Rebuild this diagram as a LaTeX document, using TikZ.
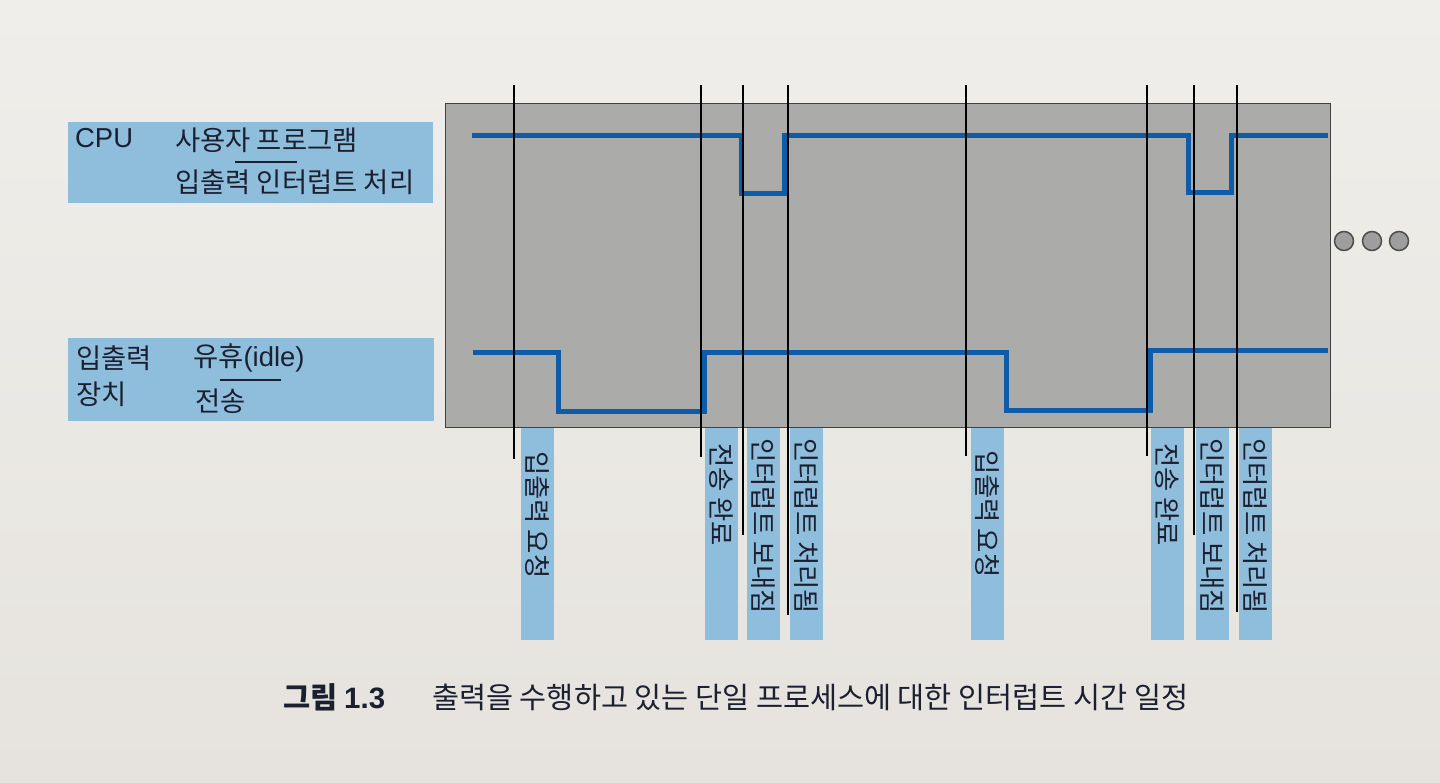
\documentclass[tikz,border=0pt]{standalone}
\usepackage{fontspec}
\setmainfont{Noto Sans CJK KR}
\newfontfamily\latinfont{Liberation Sans}
\newfontfamily\latinbold{Liberation Sans Bold}
\definecolor{paperA}{HTML}{EFEEEA}
\definecolor{paperB}{HTML}{E6E3DE}
\definecolor{boxgray}{HTML}{ABABA9}
\definecolor{lblue}{HTML}{8FBDDC}
\definecolor{sigblue}{HTML}{0E5BA8}
\definecolor{ink}{HTML}{1B2030}
\tikzset{
  legendbox/.style={fill=lblue, draw=none},
  txt/.style={anchor=west, inner sep=0pt, text=ink, font=\fontsize{27.4}{32}\selectfont},
  vlbox/.style={fill=lblue, draw=none, anchor=north, minimum width=33pt, minimum height=212pt, inner sep=0pt},
  vlabel/.style={rotate=-90, anchor=west, inner sep=0pt, text=ink, font=\fontsize{26.4}{30}\selectfont},
  marker/.style={draw=black, line width=1.6pt},
  signal/.style={draw=sigblue, line width=5pt, line join=miter, line cap=butt},
  sepline/.style={draw=ink, line width=1.8pt},
  dotc/.style={circle, minimum size=19pt, inner sep=0pt, fill=black!38, draw=black!70, line width=1.5pt}
}
\begin{document}
\begin{tikzpicture}[x=1pt,y=-1pt]
\useasboundingbox (0,0) rectangle (1440,783);
\shade[top color=paperA, bottom color=paperB] (0,0) rectangle (1440,783);

% legend boxes
\node[legendbox, anchor=north west, minimum width=365pt, minimum height=81pt, inner sep=0pt] (cpubox) at (68,122) {};
\node[legendbox, anchor=north west, minimum width=366pt, minimum height=83pt, inner sep=0pt] (iobox) at (68,338) {};
\node[txt] (cpu) at (75,138) {\latinfont CPU};
\node[txt] (user) at (175,140) {사용자 프로그램};
\node[txt] (intp) at (175,182) {입출력 인터럽트 처리};
\coordinate (s1a) at (235,162); \coordinate (s1b) at (297,162);
\draw[sepline] (s1a) -- (s1b);
\node[txt] (io1) at (76,358) {입출력};
\node[txt] (io2) at (76,394) {장치};
\node[txt] (idle) at (193,358) {유휴{\latinfont (idle)}};
\node[txt] (xfer) at (195,401) {전송};
\coordinate (s2a) at (220,380); \coordinate (s2b) at (281,380);
\draw[sepline] (s2a) -- (s2b);

% gray timing box
\node[fill=boxgray, draw=black!75, line width=1.2pt, anchor=north west, minimum width=885pt, minimum height=324pt, inner sep=0pt] (tbox) at (445,103) {};

% CPU signal
\coordinate (c0) at (472,136);
\coordinate (c1) at (741,136); \coordinate (c2) at (741,194);
\coordinate (c3) at (784,194); \coordinate (c4) at (784,136);
\coordinate (c5) at (1188,136); \coordinate (c6) at (1188,193);
\coordinate (c7) at (1231,193); \coordinate (c8) at (1231,136);
\coordinate (c9) at (1328,136);
\draw[signal] (c0) -- (c1) -- (c2) -- (c3) -- (c4) -- (c5) -- (c6) -- (c7) -- (c8) -- (c9);

% I/O signal
\coordinate (d0) at (473,353);
\coordinate (d1) at (558,353); \coordinate (d2) at (558,411);
\coordinate (d3) at (704,411); \coordinate (d4) at (704,353);
\coordinate (d5) at (1006,353); \coordinate (d6) at (1006,410);
\coordinate (d7) at (1150,410); \coordinate (d8) at (1150,351);
\coordinate (d9) at (1328,351);
\draw[signal] (d0) -- (d1) -- (d2) -- (d3) -- (d4) -- (d5) -- (d6) -- (d7) -- (d8) -- (d9);

% event label boxes
\node[vlbox] (L1) at (537,428) {};
\node[vlbox] (L2) at (721,428) {};
\node[vlbox] (L3) at (763,428) {};
\node[vlbox] (L4) at (806,428) {};
\node[vlbox] (L5) at (987,428) {};
\node[vlbox] (L6) at (1167,428) {};
\node[vlbox] (L7) at (1212,428) {};
\node[vlbox] (L8) at (1255,428) {};
\node[vlabel] at (537,451) {입출력 요청};
\node[vlabel] at (721,443) {전송 완료};
\node[vlabel] at (763,438) {인터럽트 보내짐};
\node[vlabel] at (806,438) {인터럽트 처리됨};
\node[vlabel] at (987,450) {입출력 요청};
\node[vlabel] at (1167,443) {전송 완료};
\node[vlabel] at (1212,438) {인터럽트 보내짐};
\node[vlabel] at (1255,438) {인터럽트 처리됨};

% event marker lines
\foreach \i/\x/\b in {1/514/459, 2/701/457, 3/743/535, 4/788/615, 5/966/456, 6/1147/456, 7/1194/535, 8/1237/612} {
  \coordinate (m\i t) at (\x,85);
  \coordinate (m\i b) at (\x,\b);
  \draw[marker] (m\i t) -- (m\i b);
}

% continuation dots
\node[dotc] (dA) at (1344,241) {};
\node[dotc] (dB) at (1372,241) {};
\node[dotc] (dC) at (1399,241) {};

% caption
\node[anchor=west, inner sep=0pt, text=ink, font=\bfseries\fontsize{29.5}{34}\selectfont] (capnum) at (283,697) {그림 {\latinbold 1.3}};
\node[anchor=west, inner sep=0pt, text=ink, font=\fontsize{29.4}{34}\selectfont] (captxt) at (432,697) {출력을 수행하고 있는 단일 프로세스에 대한 인터럽트 시간 일정};
\end{tikzpicture}
\end{document}
